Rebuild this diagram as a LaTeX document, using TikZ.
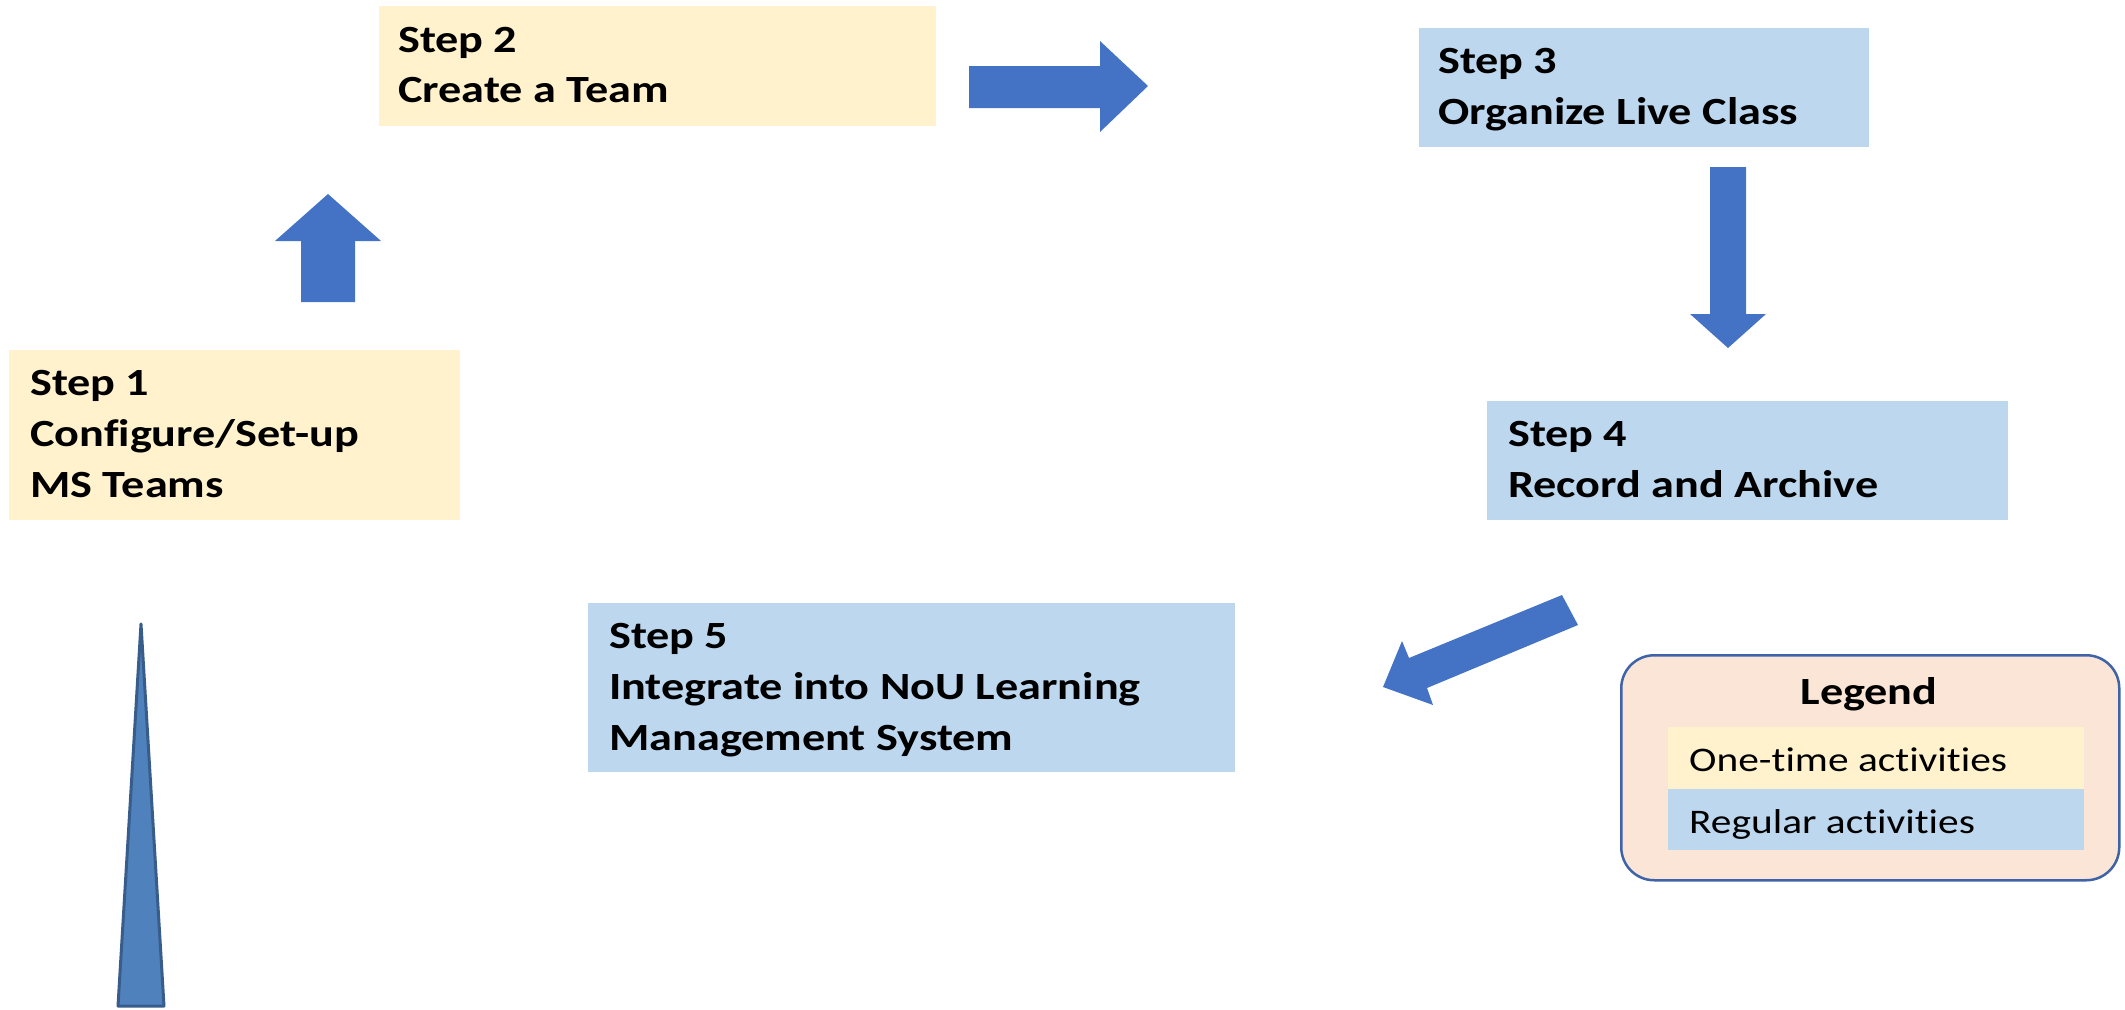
\documentclass[tikz,border=0pt]{standalone}
\usepackage{fontspec}
\setmainfont{Carlito}[FakeStretch=1.2,Ligatures=NoCommon]
\definecolor{onetime}{HTML}{FFF2CC}
\definecolor{regular}{HTML}{BDD7EE}
\definecolor{arrowblue}{HTML}{4472C4}
\definecolor{legfill}{HTML}{FBE5D6}
\definecolor{legdraw}{HTML}{3F63A8}
\definecolor{trifill}{HTML}{4F81BD}
\definecolor{tridraw}{HTML}{385D8A}
\newcommand\stacklines[1]{\vtop{\baselineskip=51pt\lineskiplimit=-100pt\relax #1}}
\begin{document}
\begin{tikzpicture}[x=1pt,y=-1pt,
  onebox/.style={fill=onetime, draw=none, inner sep=0pt, anchor=north west},
  regbox/.style={fill=regular, draw=none, inner sep=0pt, anchor=north west},
  steptext/.style={anchor=base west, inner sep=0pt, font=\fontsize{38.5}{51}\selectfont\bfseries},
  legtext/.style={anchor=base west, inner sep=0pt, font=\fontsize{34.5}{42}\selectfont},
  blockarrow/.style={fill=arrowblue, draw=none}]
\useasboundingbox (0,0) rectangle (2125,1009);

% step boxes
\node[onebox, minimum width=451pt, minimum height=170pt] (s1) at (9,350) {};
\node[onebox, minimum width=557pt, minimum height=120pt] (s2) at (379,6) {};
\node[regbox, minimum width=450pt, minimum height=119pt] (s3) at (1419,28) {};
\node[regbox, minimum width=521pt, minimum height=119pt] (s4) at (1487,401) {};
\node[regbox, minimum width=647pt, minimum height=169pt] (s5) at (588,603) {};

% step texts
\node[steptext] (t1) at (30,395) {\stacklines{\hbox{Step 1}\hbox{Configure/Set-up}\hbox{MS Teams}}};
\node[steptext] (t2) at (398,52) {\stacklines{\hbox{Step 2}\hbox{Create a Team}}};
\node[steptext] (t3) at (1438,73.5) {\stacklines{\hbox{Step 3}\hbox{Organize Live Class}}};
\node[steptext] (t4) at (1508,446) {\stacklines{\hbox{Step 4}\hbox{Record and Archive}}};
\node[steptext] (t5) at (609,648) {\stacklines{\hbox{Step 5}\hbox{Integrate into NoU Learning}\hbox{Management System}}};

% block arrows
\fill[blockarrow] (301,302) -- (301,241) -- (275,241) -- (328,194) -- (381,241) -- (355,241) -- (355,302) -- cycle;
\fill[blockarrow] (969,66) -- (1100,66) -- (1100,41) -- (1148,86) -- (1100,132) -- (1100,108) -- (969,108) -- cycle;
\fill[blockarrow] (1710,167) -- (1746,167) -- (1746,314) -- (1766,314) -- (1728,348) -- (1690,314) -- (1710,314) -- cycle;
\fill[blockarrow] (1562,595) -- (1409,658) -- (1402,641) -- (1383,687) -- (1433,705) -- (1427,688) -- (1578,625) -- cycle;

% tall triangle
\filldraw[fill=trifill, draw=tridraw, line width=3pt, line join=round] (141,624) -- (164,1006) -- (118,1006) -- cycle;

% legend
\node[fill=legfill, draw=legdraw, line width=2.5pt, rounded corners=33pt, inner sep=0pt, anchor=north west,
      minimum width=498pt, minimum height=225pt] (leg) at (1620,654) {};
\node[onebox, minimum width=416pt, minimum height=62pt] (r1) at (1668,727) {};
\node[regbox, minimum width=416pt, minimum height=61pt] (r2) at (1668,789) {};
\node[anchor=base, inner sep=0pt, font=\fontsize{38.5}{46}\selectfont\bfseries] (lt) at (1869,704) {Legend};
\node[legtext] (r1t) at (1689,771) {One-time activities};
\node[legtext] (r2t) at (1689,833) {Regular activities};
\end{tikzpicture}
\end{document}
